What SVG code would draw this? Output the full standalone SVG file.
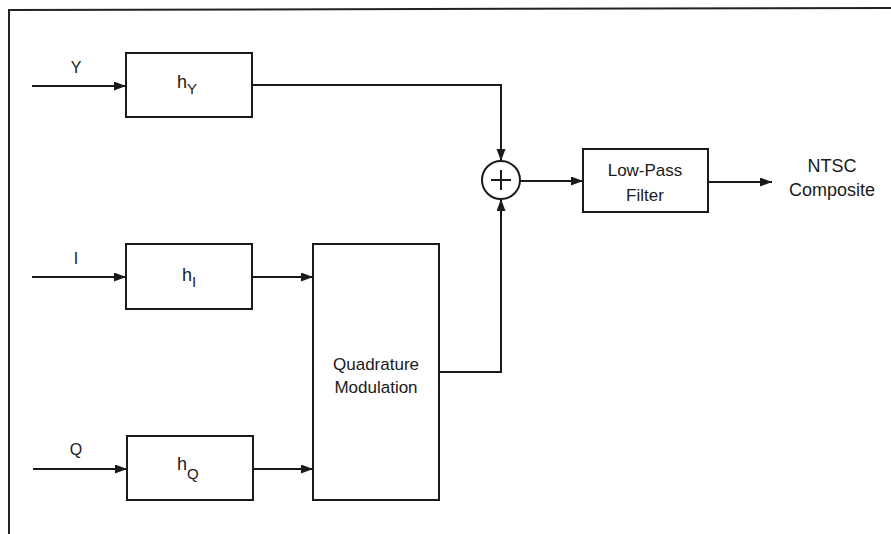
<svg xmlns="http://www.w3.org/2000/svg" width="891" height="534" viewBox="0 0 891 534">
<style>
.box{fill:#fff;stroke:#1a1a1a;stroke-width:2}
.ln{fill:none;stroke:#1a1a1a;stroke-width:2}
.t{font-family:"Liberation Sans",Arial,sans-serif;font-size:17px;fill:#1a1a1a;text-anchor:middle}
.big{font-size:18px}
.lbl{font-family:"Liberation Sans",Arial,sans-serif;font-size:16px;fill:#1a1a1a;text-anchor:middle}
.h{font-family:"Liberation Sans",Arial,sans-serif;font-size:18px;fill:#1a1a1a}
.s{font-size:15px}
</style>
<defs>
<marker id="ar" markerUnits="userSpaceOnUse" markerWidth="14" markerHeight="10" refX="12" refY="4.5" orient="auto">
<path d="M0,0 L12,4.5 L0,9 z" fill="#1a1a1a"/>
</marker>
</defs>
<rect width="891" height="534" fill="#fff"/>
<g id="frame">
<path d="M891,8 L9,10 L9,534" fill="none" stroke="#222" stroke-width="2"/>
</g>
<g id="hY">
<rect class="box" x="126" y="53" width="126" height="64"/>
<text class="h" x="177" y="88">h<tspan class="s" dy="6">Y</tspan></text>
</g>
<g id="hI">
<rect class="box" x="126" y="244" width="126" height="65"/>
<text class="h" x="182" y="281">h<tspan class="s" dy="6">I</tspan></text>
</g>
<g id="hQ">
<rect class="box" x="127" y="436" width="126" height="64"/>
<text class="h" x="177" y="470">h<tspan class="s" dy="9">Q</tspan></text>
</g>
<g id="quad">
<rect class="box" x="313" y="244" width="126" height="256"/>
<text class="t" x="376" y="370">Quadrature</text>
<text class="t" x="376" y="393">Modulation</text>
</g>
<g id="sum">
<circle cx="501" cy="180" r="19" fill="#fff" stroke="#1a1a1a" stroke-width="2"/>
<path d="M501,170 V190 M491,180 H511" stroke="#1a1a1a" stroke-width="2"/>
</g>
<g id="lpf">
<rect class="box" x="583" y="149" width="125" height="63"/>
<text class="t" x="645" y="176">Low-Pass</text>
<text class="t" x="645" y="201">Filter</text>
</g>
<g id="labels">
<text class="lbl" x="76" y="73">Y</text>
<text class="lbl" x="76" y="264">I</text>
<text class="lbl" x="76" y="455">Q</text>
<text class="t big" x="832" y="172">NTSC</text>
<text class="t big" x="832" y="196">Composite</text>
</g>
<g id="connectors">
<path class="ln" d="M32,86 H126" marker-end="url(#ar)"/>
<path class="ln" d="M32,277 H126" marker-end="url(#ar)"/>
<path class="ln" d="M33,469 H127" marker-end="url(#ar)"/>
<path class="ln" d="M252,85 H501 V161" marker-end="url(#ar)"/>
<path class="ln" d="M252,277 H313" marker-end="url(#ar)"/>
<path class="ln" d="M253,469 H313" marker-end="url(#ar)"/>
<path class="ln" d="M439,372 H501 V199" marker-end="url(#ar)"/>
<path class="ln" d="M520,181 H583" marker-end="url(#ar)"/>
<path class="ln" d="M708,182 H772" marker-end="url(#ar)"/>
</g>
</svg>
